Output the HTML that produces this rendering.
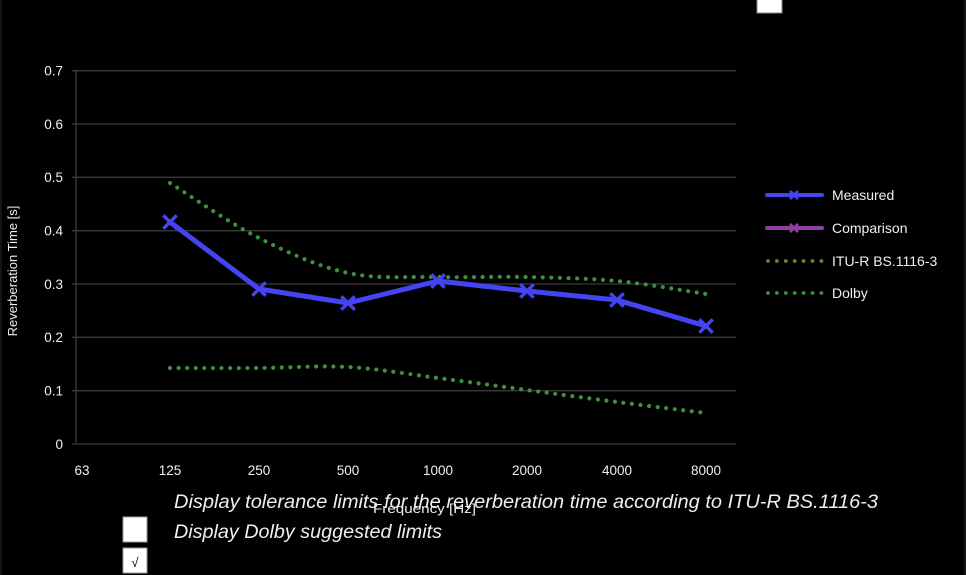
<!DOCTYPE html>
<html><head><meta charset="utf-8"><style>
html,body{margin:0;padding:0;background:#000;}
svg{display:block;}
text{font-family:"Liberation Sans",sans-serif;fill:#efefef;}
</style></head><body>
<svg width="966" height="575" viewBox="0 0 966 575" xmlns="http://www.w3.org/2000/svg">
<rect x="0" y="0" width="966" height="575" fill="#000"/>
<line x1="1" y1="0" x2="1" y2="575" stroke="#161616" stroke-width="2"/>
<line x1="965" y1="0" x2="965" y2="575" stroke="#161616" stroke-width="2"/>
<!-- top right box -->
<rect x="757" y="-2" width="25" height="15" fill="#fff" stroke="#888" stroke-width="1"/>
<!-- gridlines -->
<g stroke="#3a3a3a" stroke-width="1.3">
<line x1="72" y1="70.7" x2="736" y2="70.7"/>
<line x1="72" y1="124" x2="736" y2="124"/>
<line x1="72" y1="177.3" x2="736" y2="177.3"/>
<line x1="72" y1="230.7" x2="736" y2="230.7"/>
<line x1="72" y1="284" x2="736" y2="284"/>
<line x1="72" y1="337.3" x2="736" y2="337.3"/>
<line x1="72" y1="390.7" x2="736" y2="390.7"/>
<line x1="72" y1="444" x2="736" y2="444"/>
<line x1="76" y1="70.7" x2="76" y2="444"/>
</g>
<!-- y labels -->
<g font-size="13.5" text-anchor="end">
<text x="63" y="75.5">0.7</text>
<text x="63" y="129">0.6</text>
<text x="63" y="182">0.5</text>
<text x="63" y="235.5">0.4</text>
<text x="63" y="289">0.3</text>
<text x="63" y="342">0.2</text>
<text x="63" y="395.5">0.1</text>
<text x="63" y="449">0</text>
</g>
<text transform="translate(17,271) rotate(-90)" font-size="13" text-anchor="middle">Reverberation Time [s]</text>
<!-- x labels -->
<g font-size="13.5" text-anchor="middle">
<text x="82" y="475">63</text>
<text x="170" y="475">125</text>
<text x="259" y="475">250</text>
<text x="348" y="475">500</text>
<text x="438" y="475">1000</text>
<text x="527" y="475">2000</text>
<text x="617" y="475">4000</text>
<text x="706" y="475">8000</text>
</g>
<!-- Dolby upper -->
<path d="M170,183 C184.8,192.2 229.3,223 259,238 C288.7,253 318.2,266.5 348,273 C377.8,279.5 408.2,276.3 438,277 C467.8,277.7 497.2,276.3 527,277 C556.8,277.7 587.2,278.2 617,281 C646.8,283.8 691.2,291.8 706,294" fill="none" stroke="#3e8f3e" stroke-width="4.2" stroke-linecap="round" stroke-dasharray="0 8.6"/>
<!-- Dolby lower -->
<path d="M170,368 C184.8,368 229.3,368.17 259,368 C288.7,367.8 318.2,365.3 348,367 C377.8,368.7 408.2,374.2 438,378 C467.8,381.8 497.2,386 527,390 C556.8,394 587.2,398.2 617,402 C646.8,405.8 691.2,411.2 706,413" fill="none" stroke="#3e8f3e" stroke-width="4.2" stroke-linecap="round" stroke-dasharray="0 8.6"/>
<!-- Measured -->
<polyline points="170,222 259,289 348,303 438,281 527,291 617,300 706,326" fill="none" stroke="#4444f2" stroke-width="5" stroke-linejoin="round"/>
<g stroke="#4444f2" stroke-width="3.4" stroke-linecap="square">
<path d="M164.5,216.5 L175.5,227.5 M175.5,216.5 L164.5,227.5"/>
<path d="M253.5,283.5 L264.5,294.5 M264.5,283.5 L253.5,294.5"/>
<path d="M342.5,297.5 L353.5,308.5 M353.5,297.5 L342.5,308.5"/>
<path d="M432.5,275.5 L443.5,286.5 M443.5,275.5 L432.5,286.5"/>
<path d="M521.5,285.5 L532.5,296.5 M532.5,285.5 L521.5,296.5"/>
<path d="M611.5,294.5 L622.5,305.5 M622.5,294.5 L611.5,305.5"/>
<path d="M700.5,320.5 L711.5,331.5 M711.5,320.5 L700.5,331.5"/>
</g>
<!-- Legend -->
<line x1="767" y1="195" x2="822" y2="195" stroke="#4444f2" stroke-width="4" stroke-linecap="round"/>
<path d="M790,191 L798,199 M798,191 L790,199" stroke="#4444f2" stroke-width="2.8"/>
<text x="832" y="200" font-size="14">Measured</text>
<line x1="767" y1="228" x2="822" y2="228" stroke="#8e3fa0" stroke-width="4" stroke-linecap="round"/>
<path d="M790,224 L798,232 M798,224 L790,232" stroke="#8e3fa0" stroke-width="2.8"/>
<text x="832" y="233" font-size="14">Comparison</text>
<line x1="768" y1="261" x2="822" y2="261" stroke="#7e7a2a" stroke-width="3.8" stroke-linecap="round" stroke-dasharray="0 8.9"/>
<text x="832" y="266" font-size="14">ITU-R BS.1116-3</text>
<line x1="768" y1="293" x2="822" y2="293" stroke="#3e8f3e" stroke-width="3.8" stroke-linecap="round" stroke-dasharray="0 8.9"/>
<text x="832" y="298" font-size="14">Dolby</text>
<!-- bottom controls -->
<text x="174" y="508" font-size="19.5" font-style="italic" textLength="704" lengthAdjust="spacingAndGlyphs">Display tolerance limits for the reverberation time according to ITU-R BS.1116-3</text>
<text x="373" y="513" font-size="12.5" textLength="103" lengthAdjust="spacingAndGlyphs">Frequency [Hz]</text>
<text x="174" y="538" font-size="19.5" font-style="italic" textLength="268" lengthAdjust="spacingAndGlyphs">Display Dolby suggested limits</text>
<rect x="123" y="517" width="24" height="25" fill="#fff" stroke="#999" stroke-width="1"/>
<rect x="123" y="548" width="24" height="25" fill="#fff" stroke="#999" stroke-width="1"/>
<text x="135" y="567" font-size="13" text-anchor="middle" style="fill:#000">√</text>
</svg>
</body></html>
